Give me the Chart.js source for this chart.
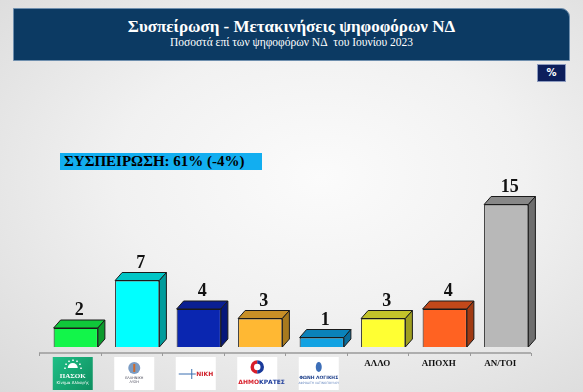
<!DOCTYPE html>
<html>
<head>
<meta charset="utf-8">
<script src="https://cdn.jsdelivr.net/npm/chart.js@4/dist/chart.umd.min.js"></script>
<style>
    html, body { margin: 0; padding: 0; }
    body {
        width: 583px; height: 392px; overflow: hidden; position: relative;
        background: radial-gradient(ellipse at 55% 45%, #fbfbfb 0%, #f1f1f1 45%, #dadada 100%);
        font-family: "Liberation Serif", "DejaVu Serif", serif;
    }
    .banner {
        position: absolute; left: 13px; top: 8px; width: 557px; height: 53px;
        background: #0c3a63; border: 1px solid #6f8fae; border-top-right-radius: 9px;
        box-sizing: border-box; color: #fff; text-align: center;
    }
    .banner .t1 { font-weight: bold; font-size: 17px; margin-top: 9px; line-height: 18px; }
    .banner .t2 { font-size: 11.5px; line-height: 13px; }
    .pct {
        position: absolute; left: 537px; top: 64px; width: 29px; height: 18px;
        background: #0d1f5c; border: 1px solid #8d9bbf; box-sizing: border-box;
        color: #fff; font: bold 10px "DejaVu Sans", sans-serif; text-align: center; line-height: 16px;
    }
    .callout {
        position: absolute; left: 60px; top: 153px; width: 202px; height: 17px;
        background: #12aef0; box-sizing: border-box; padding-left: 4px;
        font-weight: bold; font-size: 15px; line-height: 17px; color: #000;
    }
    canvas { position: absolute; left: 0; top: 0; }
</style>
</head>
<body>
<div class="banner">
    <div class="t1">Συσπείρωση - Μετακινήσεις ψηφοφόρων ΝΔ</div>
    <div class="t2">Ποσοστά επί των ψηφοφόρων ΝΔ&nbsp; του Ιουνίου 2023</div>
</div>
<div class="pct">%</div>
<div class="callout">ΣΥΣΠΕΙΡΩΣΗ: 61% (-4%)</div>
<canvas id="movesChart" width="583" height="392"></canvas>
<script>
// categories (the first five are shown as party logos)
const categories = ['ΠΑΣΟΚ', 'ΕΛΛΗΝΙΚΗ ΛΥΣΗ', 'ΝΙΚΗ', 'ΔΗΜΟΚΡΑΤΕΣ', 'ΦΩΝΗ ΛΟΓΙΚΗΣ', 'ΑΛΛΟ', 'ΑΠΟΧΗ', 'ΑΝ/ΤΟΙ'];
const values = [2, 7, 4, 3, 1, 3, 4, 15];

const frontColors = ['#12f54a', '#00ffff', '#0a26b0', '#ffb833', '#12a2e2', '#ffff33', '#ff6222', '#b8b8b8'];
const sideColors  = ['#0c9a2c', '#009c9c', '#06177a', '#a87a1e', '#0a6c9a', '#a0a020', '#a03a12', '#6e6e6e'];
const topColors   = ['#10c83a', '#00c6c6', '#0a1f92', '#c88f26', '#0a82ba', '#c2c22a', '#c2481a', '#888888'];

const DX = 7, DY = 8;          // 3D depth
const AXIS_SHIFT = -6;         // floor line sits a bit left of the bar fronts

const box3d = {
    id: 'box3d',
    afterDatasetsDraw(chart) {
        const ctx = chart.ctx;
        const meta = chart.getDatasetMeta(0);
        ctx.save();
        ctx.lineWidth = 1;
        ctx.strokeStyle = '#1a1a1a';
        meta.data.forEach((bar, i) => {
            const l = bar.x - bar.width / 2, r = bar.x + bar.width / 2;
            const t = bar.y, b = bar.base;
            // top face
            ctx.beginPath();
            ctx.moveTo(l, t); ctx.lineTo(l + DX, t - DY); ctx.lineTo(r + DX, t - DY); ctx.lineTo(r, t);
            ctx.closePath();
            ctx.fillStyle = topColors[i]; ctx.fill(); ctx.stroke();
            // side face
            ctx.beginPath();
            ctx.moveTo(r, t); ctx.lineTo(r + DX, t - DY); ctx.lineTo(r + DX, b - DY); ctx.lineTo(r, b);
            ctx.closePath();
            ctx.fillStyle = sideColors[i]; ctx.fill(); ctx.stroke();
            // value label
            ctx.fillStyle = '#111';
            ctx.font = 'bold 18px "Liberation Serif"';
            ctx.textAlign = 'center';
            ctx.textBaseline = 'alphabetic';
            ctx.fillText(String(values[i]), bar.x + DX / 2, t - DY - 5);
        });
        ctx.restore();
    }
};

function logo(ctx, i, cx) {
    const w = 40, h = 33, x = cx - w / 2, y = 357;
    ctx.save();
    ctx.textAlign = 'center';
    ctx.textBaseline = 'middle';
    if (i === 0) {
        const g = ctx.createLinearGradient(x, y, x + w, y + h);
        g.addColorStop(0, '#1fbf86'); g.addColorStop(1, '#0e8f60');
        ctx.fillStyle = g; ctx.fillRect(x, y, w, h);
        ctx.fillStyle = '#fff';
        ctx.beginPath(); ctx.arc(cx, y + 11, 5, Math.PI, 0); ctx.fill();
        for (let k = 0; k < 7; k++) {
            const a = Math.PI + k * Math.PI / 6;
            ctx.fillRect(cx + Math.cos(a) * 8 - 0.5, y + 11 + Math.sin(a) * 8 - 0.5, 1.5, 1.5);
        }
        ctx.font = 'bold 7px "Liberation Serif"';
        ctx.fillText('ΠΑΣΟΚ', cx, y + 19);
        ctx.font = '4px "DejaVu Sans"';
        ctx.fillText('Κίνημα Αλλαγής', cx, y + 26);
    } else {
        ctx.fillStyle = '#fff'; ctx.fillRect(x, y, w, h);
        if (i === 1) {
            ctx.fillStyle = '#7a9cc4';
            ctx.beginPath(); ctx.arc(cx, y + 11, 6, 0, Math.PI * 2); ctx.fill();
            ctx.fillStyle = '#d06a2a'; ctx.fillRect(cx - 1, y + 7, 2, 8);
            ctx.fillStyle = '#445'; ctx.font = '3.5px "DejaVu Sans"';
            ctx.fillText('ΕΛΛΗΝΙΚΗ', cx, y + 21); ctx.fillText('ΛΥΣΗ', cx, y + 25);
        } else if (i === 2) {
            ctx.strokeStyle = '#3a6fb0'; ctx.lineWidth = 1;
            ctx.beginPath(); ctx.moveTo(x + 3, y + 17); ctx.lineTo(x + 20, y + 17); ctx.stroke();
            ctx.beginPath(); ctx.moveTo(x + 16, y + 12); ctx.lineTo(x + 16, y + 22); ctx.stroke();
            ctx.fillStyle = '#d0202a'; ctx.font = 'bold 6px "DejaVu Sans"';
            ctx.fillText('NIKH', x + 29, y + 17);
        } else if (i === 3) {
            ctx.lineWidth = 3.5;
            ctx.strokeStyle = '#d81e2a';
            ctx.beginPath(); ctx.arc(cx, y + 10, 5, Math.PI * 0.5, Math.PI * 1.5); ctx.stroke();
            ctx.strokeStyle = '#1a3a9a';
            ctx.beginPath(); ctx.arc(cx, y + 10, 5, -Math.PI * 0.5, Math.PI * 0.5); ctx.stroke();
            ctx.font = 'bold 6px "DejaVu Sans"';
            ctx.textAlign = 'left';
            ctx.fillStyle = '#d81e2a'; ctx.fillText('ΔΗΜΟ', x + 1, y + 25);
            const wd = ctx.measureText('ΔΗΜΟ').width;
            ctx.fillStyle = '#1a3a9a'; ctx.fillText('ΚΡΑΤΕΣ', x + 1 + wd, y + 25);
        } else if (i === 4) {
            ctx.fillStyle = '#3d6fb8';
            ctx.beginPath(); ctx.ellipse(cx, y + 10, 3, 5, 0, 0, Math.PI * 2); ctx.fill();
            ctx.fillStyle = '#1d3f8a'; ctx.font = 'bold 4.5px "DejaVu Sans"';
            ctx.fillText('ΦΩΝΗ ΛΟΓΙΚΗΣ', cx, y + 21);
            ctx.fillStyle = '#6a8ac0'; ctx.font = '3px "DejaVu Sans"';
            ctx.fillText('ΑΦΡΟΔΙΤΗ ΛΑΤΙΝΟΠΟΥΛΟΥ', cx, y + 26);
        }
    }
    ctx.restore();
}

const floorAxis = {
    id: 'floorAxis',
    afterDraw(chart) {
        const ctx = chart.ctx;
        const xs = chart.scales.x;
        const step = xs.getPixelForValue(1) - xs.getPixelForValue(0);
        const left = chart.chartArea.left + AXIS_SHIFT, right = chart.chartArea.right + AXIS_SHIFT;
        const yLine = chart.chartArea.bottom + 6;
        ctx.save();
        ctx.strokeStyle = '#9a9a9a';
        ctx.lineWidth = 1.5;
        ctx.beginPath(); ctx.moveTo(left, yLine); ctx.lineTo(right, yLine); ctx.stroke();
        ctx.lineWidth = 1;
        for (let k = 0; k <= categories.length; k++) {
            const tx = Math.round(left + k * step) + 0.5;
            ctx.beginPath(); ctx.moveTo(tx, yLine); ctx.lineTo(tx, yLine + 3); ctx.stroke();
        }
        categories.forEach((c, i) => {
            const cx = xs.getPixelForValue(i);
            if (i < 5) {
                logo(ctx, i, cx - 3);
            } else {
                ctx.fillStyle = '#111';
                ctx.font = 'bold 9px "Liberation Serif"';
                ctx.textAlign = 'center';
                ctx.textBaseline = 'middle';
                ctx.fillText(c, cx + AXIS_SHIFT, 364);
            }
        });
        ctx.restore();
    }
};

new Chart(document.getElementById('movesChart'), {
    type: 'bar',
    data: {
        labels: categories,
        datasets: [{
            data: values,
            backgroundColor: frontColors,
            borderColor: '#1a1a1a',
            borderWidth: 1,
            barPercentage: 0.72,
            categoryPercentage: 1
        }]
    },
    options: {
        responsive: false,
        animation: false,
        events: [],
        layout: { padding: { left: 45, right: 46, top: 157, bottom: 45 } },
        scales: {
            x: { display: false },
            y: { display: false, min: 0, max: 20 }
        },
        plugins: {
            legend: { display: false },
            tooltip: { enabled: false }
        }
    },
    plugins: [box3d, floorAxis]
});
</script>
</body>
</html>
